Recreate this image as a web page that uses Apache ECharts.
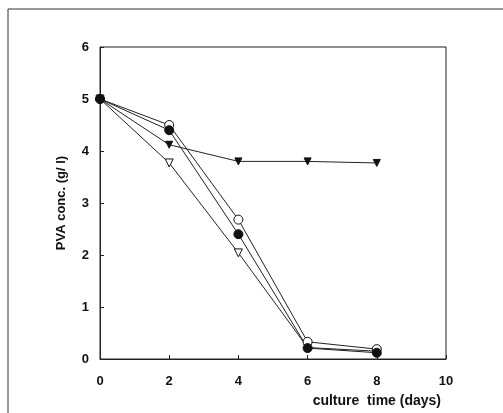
<!doctype html>
<html>
<head>
<meta charset="utf-8">
<script src="https://cdn.jsdelivr.net/npm/echarts@6/dist/echarts.min.js"></script>
<style>
    html, body { margin: 0; padding: 0; background: #fff; }
    #chart { width: 503px; height: 413px; }
</style>
</head>
<body>
<div id="chart"></div>
<script>
    // culture time (days)
    var days = [0, 2, 4, 6, 8];
    // PVA conc. (g/l) for each strain
    var openCircle = [5.0, 4.5, 2.68, 0.33, 0.19];
    var fillCircle = [5.0, 4.4, 2.4, 0.21, 0.12];
    var fillTriangle = [5.0, 4.12, 3.8, 3.8, 3.77];
    var openTriangle = [5.0, 3.77, 2.04, 0.22, 0.15];

    function pairs(vals) {
        var out = [];
        for (var i = 0; i < days.length; i++) {
            out.push([days[i], vals[i]]);
        }
        return out;
    }

    function makeSeries(vals, symbol, filled, size, rotate) {
        return {
            type: 'line',
            data: pairs(vals),
            symbol: symbol,
            symbolSize: size,
            symbolRotate: rotate || 0,
            showAllSymbol: true,
            lineStyle: { color: '#222', width: 1 },
            itemStyle: {
                color: filled ? '#111' : '#fff',
                borderColor: '#111',
                borderWidth: 1
            },
            emphasis: { disabled: true },
            animation: false
        };
    }

    var labelFont = { color: '#111', fontFamily: 'Liberation Sans', fontWeight: 'bold', fontSize: 13 };

    var chart = echarts.init(document.getElementById('chart'));
    chart.setOption({
        backgroundColor: '#fff',
        grid: { left: 100, right: 57, top: 47, bottom: 54, show: true, borderColor: '#222', borderWidth: 1 },
        xAxis: {
            type: 'value', min: 0, max: 10, interval: 2,
            axisLine: { show: true, lineStyle: { color: '#222' } },
            axisTick: { show: true, inside: true, length: 4, lineStyle: { color: '#222' } },
            splitLine: { show: false },
            axisLabel: Object.assign({ margin: 16 }, labelFont)
        },
        yAxis: {
            type: 'value', min: 0, max: 6, interval: 1,
            axisLine: { show: true, lineStyle: { color: '#222' } },
            axisTick: { show: true, inside: true, length: 4, lineStyle: { color: '#222' } },
            splitLine: { show: false },
            axisLabel: Object.assign({ margin: 11 }, labelFont),
            name: 'PVA conc. (g/ l)',
            nameLocation: 'middle',
            nameGap: 32,
            nameTextStyle: labelFont
        },
        graphic: [
            {
                type: 'rect',
                shape: { x: 8, y: 9, width: 520, height: 420 },
                style: { fill: 'none', stroke: '#333', lineWidth: 1 },
                silent: true
            },
            {
                type: 'text',
                right: 62, top: 394,
                style: {
                    text: 'culture  time (days)',
                    fill: '#111',
                    font: 'bold 14px "Liberation Sans"'
                },
                silent: true
            }
        ],
        series: [
            makeSeries(fillTriangle, 'triangle', true, 7, 180),
            makeSeries(openTriangle, 'triangle', false, 8, 180),
            makeSeries(openCircle, 'circle', false, 9),
            makeSeries(fillCircle, 'circle', true, 9)
        ]
    });
</script>
</body>
</html>
